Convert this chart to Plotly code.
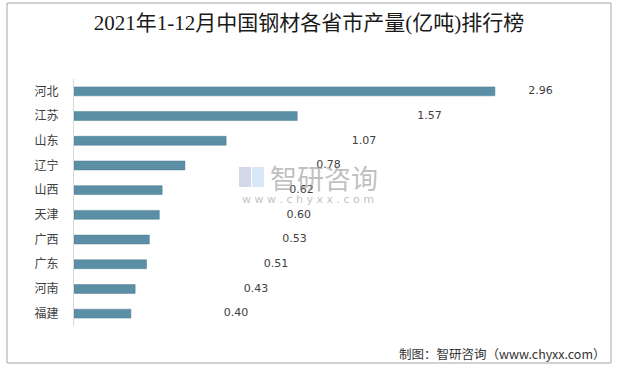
import plotly.graph_objects as go

provinces = ["河北", "江苏", "山东", "辽宁", "山西", "天津", "广西", "广东", "河南", "福建"]
output = [2.96, 1.57, 1.07, 0.78, 0.62, 0.60, 0.53, 0.51, 0.43, 0.40]
label_pos = [3.28, 2.50, 2.04, 1.79, 1.60, 1.58, 1.55, 1.42, 1.28, 1.14]
value_text = [f"{v:.2f}" for v in output]

W, H = 618, 368
ML, MR, MT, MB = 74, 32, 79, 42
PW, PH = W - ML - MR, H - MT - MB

def px(x):
    return (x - ML) / PW

def py(y):
    return (H - MB - y) / PH

fig = go.Figure()
fig.add_trace(go.Bar(
    x=output, y=provinces, orientation="h",
    marker=dict(color="#5b8fa6", line=dict(color="#4d7c92", width=0.5)),
    hoverinfo="x+y", showlegend=False,
))
fig.add_trace(go.Scatter(
    x=label_pos, y=provinces, mode="text", text=value_text,
    textfont=dict(family="DejaVu Sans", size=11, color="#404040"),
    textposition="middle center", showlegend=False, hoverinfo="skip",
))

fig.update_layout(
    width=W, height=H,
    margin=dict(l=ML, r=MR, t=MT, b=MB),
    paper_bgcolor="white", plot_bgcolor="white",
    bargap=0.64,
    title=dict(text="2021年1-12月中国钢材各省市产量(亿吨)排行榜",
               x=0.5, xref="container", xanchor="center", y=1 - 23 / H, yanchor="middle",
               font=dict(family="Liberation Serif, Noto Sans CJK SC", size=21, color="#1a1a1a")),
    xaxis=dict(range=[0, PW / 142.2], showgrid=False, zeroline=False,
               showticklabels=False, ticks="", showline=False, fixedrange=True),
    yaxis=dict(autorange="reversed", showgrid=False, zeroline=False,
               showline=True, linecolor="#d9d9d9", linewidth=1,
               ticks="", ticklabelstandoff=12,
               tickfont=dict(family="Noto Sans CJK SC", size=12, color="#404040")),
)

# outer border
fig.add_shape(type="rect", xref="paper", yref="paper",
              x0=px(7), x1=px(611), y0=py(363), y1=py(3),
              line=dict(color="#a6a6a6", width=1), fillcolor="rgba(0,0,0,0)", layer="below")

# watermark logo (simple blocks)
fig.add_shape(type="rect", xref="paper", yref="paper", x0=px(239), x1=px(251), y0=py(187), y1=py(167),
              line=dict(width=0), fillcolor="rgba(160,170,205,0.45)", layer="below")
fig.add_shape(type="rect", xref="paper", yref="paper", x0=px(252), x1=px(264), y0=py(187), y1=py(167),
              line=dict(width=0), fillcolor="rgba(170,205,235,0.45)", layer="below")
fig.add_annotation(text="智研咨询", xref="paper", yref="paper", x=px(268), y=py(177),
                   xanchor="left", yanchor="middle", showarrow=False,
                   font=dict(family="Noto Sans CJK SC", size=27, color="rgba(150,150,150,0.6)"))
fig.add_annotation(text="w w w . c h y x x . c o m", xref="paper", yref="paper", x=px(308), y=py(199),
                   xanchor="center", yanchor="middle", showarrow=False,
                   font=dict(family="DejaVu Sans", size=11, color="rgba(150,150,150,0.6)"))

# source note
fig.add_annotation(text="制图：智研咨询（www.chyxx.com）", xref="paper", yref="paper",
                   x=px(608), y=py(353), xanchor="right", yanchor="middle", showarrow=False,
                   font=dict(family="Noto Sans CJK SC", size=12.5, color="#333333"))

fig.write_html("out.html", config={"displayModeBar": False},
               post_script="document.body.style.margin='0';")
